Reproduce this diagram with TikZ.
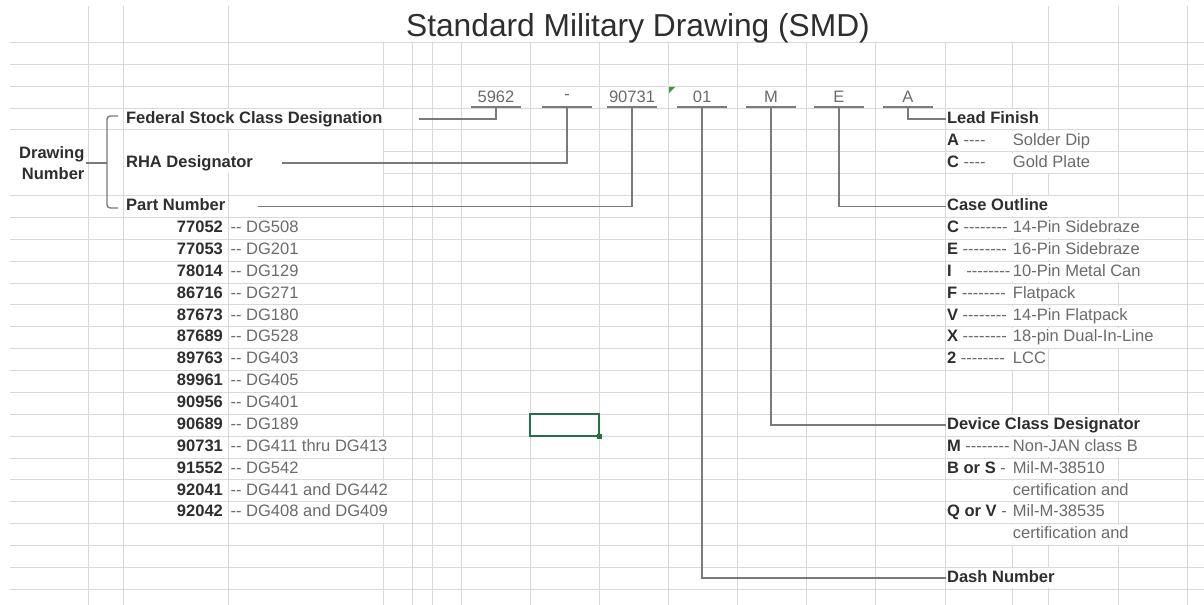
\documentclass[tikz,border=0pt]{standalone}
\usepackage{fontspec}
\newfontfamily\smdfont{Liberation Sans}
\usetikzlibrary{calc}
\definecolor{ink}{HTML}{2E2E2E}
\definecolor{inksoft}{HTML}{6B6B6B}
\definecolor{rule}{HTML}{7A7A7A}
\definecolor{cellgrid}{HTML}{D9D9D9}
\definecolor{selgreen}{HTML}{217346}
\definecolor{notegreen}{HTML}{3A9A3A}
\newcommand\smdbody{\smdfont\fontsize{12.4}{15}\selectfont}

\begin{document}
\begin{tikzpicture}[x=0.75pt, y=-0.75pt,
  fieldhead/.style={anchor=west, fill=white, text=ink, font=\smdbody\bfseries,
    inner xsep=1pt, inner ysep=1.7pt, text height=9pt, text depth=2.6pt},
  entry/.style={fieldhead, text=inksoft, font=\smdbody},
  listno/.style={fieldhead, anchor=east, fill=none},
  smdpart/.style={anchor=south, text=inksoft, font=\smdbody,
    minimum width=37.5pt, minimum height=15pt, inner sep=0pt},
  leader/.style={draw=rule, line width=1.4pt},
  bracket/.style={draw=rule, line width=1.1pt, rounded corners=2.5pt},
  cellline/.style={draw=cellgrid, line width=0.75pt}
]
\fill[white] (0,0) rectangle (1204,605);
\useasboundingbox (0,0) rectangle (1204,605);

% spreadsheet cells behind everything
\foreach \k in {0,1,2,3,4,7,8,...,25}
  \draw[cellline] (10,{42.5+21.87*\k}) -- (1204,{42.5+21.87*\k});
\foreach \k in {5,6}
  \draw[cellline] (383,{42.5+21.87*\k}) -- (1204,{42.5+21.87*\k});
\foreach \x in {88,123,228,1048,1118,1187}
  \draw[cellline] (\x,6) -- (\x,605);
\foreach \x in {383,412,432,461,530,599,668,737,806,875,945,1012}
  \draw[cellline] (\x,42.5) -- (\x,605);

\node[text=ink, font=\smdfont\fontsize{23.8}{28}\selectfont, anchor=base] (title) at (638,36.5)
  {Standard Military Drawing (SMD)};

% the number, one field per cell
\node[smdpart] (c5962) at (496,107) {5962};
\node[smdpart] (cdash) at (567,107) {-};
\node[smdpart] (c90731) at (632,107) {90731};
\node[smdpart] (c01) at (702,107) {01};
\node[smdpart] (cM) at (771,107) {M};
\node[smdpart] (cE) at (839,107) {E};
\node[smdpart] (cA) at (908,107) {A};
\foreach \c in {c5962,cdash,c90731,c01,cM,cE,cA}
  \draw[leader] (\c.south west) -- (\c.south east);
\fill[notegreen] (669,87) -- (675,87) -- (669,93) -- cycle;

% drawing number fields
\node[font=\smdfont\fontsize{12.4}{15.8}\selectfont\bfseries, text=ink, align=right,
  anchor=east, inner sep=1pt] (drawing) at (86,162.8) {Drawing\\Number};
\node[fieldhead] (federal) at (124.5,119.0) {Federal Stock Class Designation};
\node[fieldhead] (rha) at (124.5,162.8) {RHA Designator};
\node[fieldhead] (partno) at (124.5,206.5) {Part Number};
\coordinate (brace) at (107,162.8);
\draw[bracket] (118,116) -- (107,116) -- (107,208) -- (118,208);
\draw[bracket] (drawing.east) -- (brace);

\node[listno] (n1) at (224.5,228.4) {77052};
\node[entry] (g1) at (229,228.4) {-- DG508};
\node[listno] (n2) at (224.5,250.2) {77053};
\node[entry] (g2) at (229,250.2) {-- DG201};
\node[listno] (n3) at (224.5,272.1) {78014};
\node[entry] (g3) at (229,272.1) {-- DG129};
\node[listno] (n4) at (224.5,294.0) {86716};
\node[entry] (g4) at (229,294.0) {-- DG271};
\node[listno] (n5) at (224.5,315.9) {87673};
\node[entry] (g5) at (229,315.9) {-- DG180};
\node[listno] (n6) at (224.5,337.7) {87689};
\node[entry] (g6) at (229,337.7) {-- DG528};
\node[listno] (n7) at (224.5,359.6) {89763};
\node[entry] (g7) at (229,359.6) {-- DG403};
\node[listno] (n8) at (224.5,381.5) {89961};
\node[entry] (g8) at (229,381.5) {-- DG405};
\node[listno] (n9) at (224.5,403.4) {90956};
\node[entry] (g9) at (229,403.4) {-- DG401};
\node[listno] (n10) at (224.5,425.2) {90689};
\node[entry] (g10) at (229,425.2) {-- DG189};
\node[listno] (n11) at (224.5,447.1) {90731};
\node[entry] (g11) at (229,447.1) {-- DG411 thru DG413};
\node[listno] (n12) at (224.5,469.0) {91552};
\node[entry] (g12) at (229,469.0) {-- DG542};
\node[listno] (n13) at (224.5,490.9) {92041};
\node[entry] (g13) at (229,490.9) {-- DG441 and DG442};
\node[listno] (n14) at (224.5,512.7) {92042};
\node[entry] (g14) at (229,512.7) {-- DG408 and DG409};

% selected cell
\draw[selgreen, line width=1.5pt] (530,414.3) rectangle (599,436.2);
\fill[selgreen] (596.5,433.7) rectangle (601.5,438.7);

% suffix fields
\node[fieldhead] (lead) at (945.5,119.0) {Lead Finish};
\node[fieldhead] (ka) at (945.5,140.9) {A {\mdseries\color{inksoft}----}};
\node[entry] (da) at (1011.3,140.9) {Solder Dip};
\node[fieldhead] (kc) at (945.5,162.8) {C {\mdseries\color{inksoft}----}};
\node[entry] (dc) at (1011.3,162.8) {Gold Plate};

\node[fieldhead] (caseout) at (945.5,206.5) {Case Outline};
\node[fieldhead] (oc) at (945.5,228.4) {C {\mdseries\color{inksoft}--------}};
\node[entry] (tc) at (1011.3,228.4) {14-Pin Sidebraze};
\node[fieldhead] (oe) at (945.5,250.2) {E {\mdseries\color{inksoft}--------}};
\node[entry] (te) at (1011.3,250.2) {16-Pin Sidebraze};
\node[fieldhead] (oi) at (945.5,272.1) {I\hspace{11pt}{\mdseries\color{inksoft}--------}};
\node[entry] (ti) at (1011.3,272.1) {10-Pin Metal Can};
\node[fieldhead] (of) at (945.5,294.0) {F {\mdseries\color{inksoft}--------}};
\node[entry] (tf) at (1011.3,294.0) {Flatpack};
\node[fieldhead] (ov) at (945.5,315.9) {V {\mdseries\color{inksoft}--------}};
\node[entry] (tv) at (1011.3,315.9) {14-Pin Flatpack};
\node[fieldhead] (ox) at (945.5,337.7) {X {\mdseries\color{inksoft}--------}};
\node[entry] (tx) at (1011.3,337.7) {18-pin Dual-In-Line};
\node[fieldhead] (o2) at (945.5,359.6) {2 {\mdseries\color{inksoft}--------}};
\node[entry] (t2) at (1011.3,359.6) {LCC};

\node[fieldhead] (devclass) at (945.5,425.2) {Device Class Designator};
\node[fieldhead] (vm) at (945.5,447.1) {M {\mdseries\color{inksoft}--------}};
\node[entry] (wm) at (1011.3,447.1) {Non-JAN class B};
\node[fieldhead] (vb) at (945.5,469.0) {B or S {\mdseries\color{inksoft}-}};
\node[entry] (wb) at (1011.3,469.0) {Mil-M-38510};
\node[entry] (wb2) at (1011.3,490.9) {certification and};
\node[fieldhead] (vq) at (945.5,512.7) {Q or V {\mdseries\color{inksoft}-}};
\node[entry] (wq) at (1011.3,512.7) {Mil-M-38535};
\node[entry] (wq2) at (1011.3,534.6) {certification and};

\node[fieldhead] (dashnum) at (945.5,578.4) {Dash Number};

% leaders from each field to its meaning
\draw[leader] ([xshift=26pt]federal.east) -| (c5962.south);
\draw[leader] ([xshift=21pt]rha.east) -| (cdash.south);
\draw[leader] ([xshift=23pt]partno.east) -| (c90731.south);
\draw[leader] (c01.south) |- (dashnum.west);
\draw[leader] (cM.south) |- (devclass.west);
\draw[leader] (cE.south) |- (caseout.west);
\draw[leader] (cA.south) |- (lead.west);
\end{tikzpicture}
\end{document}
